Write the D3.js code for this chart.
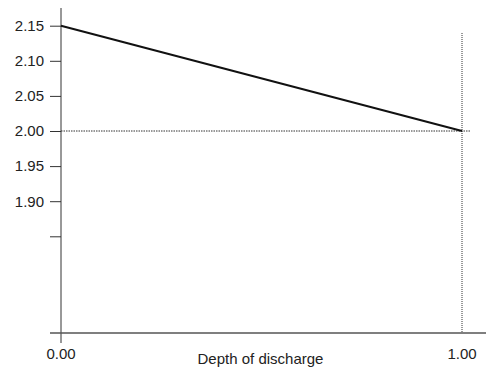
<!DOCTYPE html>
<html>
<head>
<meta charset="utf-8">
<script src="https://cdn.jsdelivr.net/npm/d3@7"></script>
<style>
  html, body { margin: 0; padding: 0; background: #fff; }
  svg { display: block; }
  text { font-family: "Liberation Sans", Arial, sans-serif; fill: #222; }
</style>
</head>
<body>
<svg id="chart" width="486" height="371"></svg>
<script>
// Voltage vs depth of discharge
const depth = [0.00, 1.00];
const voltage = [2.15, 2.00];
const yTicks = [1.85, 1.90, 1.95, 2.00, 2.05, 2.10, 2.15];
const yTickLabels = ["", "1.90", "1.95", "2.00", "2.05", "2.10", "2.15"];
const xTicks = [0.00, 1.00];
const xTickLabels = ["0.00", "1.00"];
const xTitle = "Depth of discharge";
const refVoltage = 2.00;
const refDepth = 1.00;

const svg = d3.select("#chart");

const x = d3.scaleLinear().domain([0, 1]).range([61, 462]);
const y = d3.scaleLinear().domain([2.00, 2.15]).range([131, 25.7]);
const yMin = y.invert(333);   // value at the x axis
const yMax = y.invert(8);     // top of the y axis line

const fontSize = 15;

// y axis ticks and labels
const yAxis = d3.axisLeft(y)
  .tickValues(yTicks)
  .tickSize(11)
  .tickPadding(6)
  .tickFormat((d, i) => yTickLabels[i]);
const gy = svg.append("g").attr("transform", `translate(${x(0)},0)`).call(yAxis);
gy.select(".domain").remove();
gy.selectAll(".tick line").attr("stroke", "#333");
gy.selectAll(".tick text")
  .attr("fill", "#222")
  .style("font-size", fontSize + "px")
  .style("font-family", "'Liberation Sans', Arial, sans-serif");

// y axis line, extending slightly below the x axis
svg.append("line")
  .attr("x1", x(0)).attr("x2", x(0))
  .attr("y1", y(yMax)).attr("y2", y(yMin) + 10)
  .attr("stroke", "#333").attr("stroke-width", 1);

// x axis line
svg.append("line")
  .attr("x1", x(0) - 11).attr("x2", 486)
  .attr("y1", y(yMin)).attr("y2", y(yMin))
  .attr("stroke", "#555").attr("stroke-width", 1.3);

// x tick labels
svg.selectAll("text.xtick")
  .data(xTicks)
  .enter().append("text")
  .attr("class", "xtick")
  .attr("x", d => x(d))
  .attr("y", y(yMin) + 26)
  .attr("text-anchor", "middle")
  .style("font-size", fontSize + "px")
  .text((d, i) => xTickLabels[i]);

// x axis title
svg.append("text")
  .attr("x", 260.5)
  .attr("y", 364)
  .attr("text-anchor", "middle")
  .style("font-size", fontSize + "px")
  .text(xTitle);

// dotted reference lines
svg.append("line")
  .attr("x1", x(0)).attr("x2", x(refDepth) + 9)
  .attr("y1", y(refVoltage)).attr("y2", y(refVoltage))
  .attr("stroke", "#333").attr("stroke-width", 1)
  .attr("stroke-dasharray", "1.5,1");
svg.append("line")
  .attr("x1", x(refDepth)).attr("x2", x(refDepth))
  .attr("y1", 33).attr("y2", y(yMin))
  .attr("stroke", "#333").attr("stroke-width", 1)
  .attr("stroke-dasharray", "1,1");

// voltage line
const line = d3.line().x((d, i) => x(depth[i])).y(d => y(d));
svg.append("path")
  .datum(voltage)
  .attr("d", line)
  .attr("fill", "none")
  .attr("stroke", "#111")
  .attr("stroke-width", 2);
</script>
</body>
</html>
